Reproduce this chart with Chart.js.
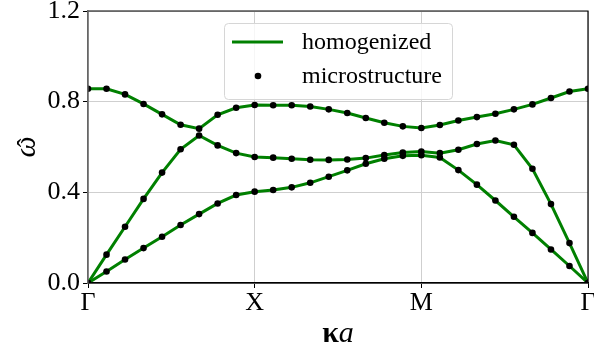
<!DOCTYPE html>
<html>
<head>
<meta charset="utf-8">
<script src="https://cdn.jsdelivr.net/npm/chart.js@4.4.1/dist/chart.umd.min.js"></script>
<style>
  html, body { margin: 0; padding: 0; background: #fff; }
  #wrap { width: 594px; height: 352px; position: relative; }
</style>
</head>
<body>
<div id="wrap"><canvas id="c" width="594" height="352"></canvas></div>
<script>
// High-symmetry path: Γ → X → M → Γ, 9 steps per segment
const pathLabels = ['Γ', 'X', 'M', 'Γ'];
const pathTicks = [0, 9, 18, 27];
const yTicks = [0, 0.4, 0.8, 1.2];

// Normalised frequency of the three lowest bands along the path
const band1 = [0.000, 0.051, 0.104, 0.154, 0.204, 0.256, 0.304, 0.351, 0.388, 0.403,
               0.410, 0.422, 0.442, 0.469, 0.497, 0.526, 0.548, 0.561, 0.564,
               0.554, 0.498, 0.434, 0.364, 0.292, 0.221, 0.148, 0.075, 0.000];
const band2 = [0.000, 0.125, 0.248, 0.371, 0.487, 0.590, 0.651, 0.607, 0.573, 0.556,
               0.553, 0.548, 0.544, 0.543, 0.545, 0.551, 0.565, 0.576, 0.580,
               0.573, 0.588, 0.613, 0.629, 0.610, 0.504, 0.348, 0.176, 0.000];
const band3 = [0.857, 0.857, 0.832, 0.790, 0.744, 0.698, 0.681, 0.742, 0.773, 0.785,
               0.784, 0.784, 0.779, 0.766, 0.750, 0.728, 0.707, 0.691, 0.684,
               0.697, 0.717, 0.732, 0.747, 0.766, 0.788, 0.816, 0.845, 0.857];

const seriesNames = ['homogenized', 'microstructure'];
const bands = [band1, band2, band3];

const GREEN = '#008000';
const SERIF = '"Liberation Serif", "Times New Roman", serif';

const toXY = arr => arr.map((v, i) => ({ x: i, y: v }));

const datasets = [];
bands.forEach(b => {
  datasets.push({
    label: seriesNames[0], data: toXY(b), showLine: true,
    borderColor: GREEN, borderWidth: 3, pointRadius: 0, tension: 0, order: 2
  });
});
bands.forEach(b => {
  datasets.push({
    label: seriesNames[1], data: toXY(b), showLine: false,
    pointRadius: 3.3, pointBackgroundColor: '#000', pointBorderWidth: 0, order: 1
  });
});

// Frame: top/right black spines, left spine grey
const framePlugin = {
  id: 'frame',
  afterDatasetsDraw(chart) {
    const { ctx, chartArea: a } = chart;
    ctx.save();
    ctx.lineWidth = 1.2;
    ctx.strokeStyle = '#000';
    ctx.beginPath();
    ctx.moveTo(a.left, a.top); ctx.lineTo(a.right, a.top);
    ctx.lineTo(a.right, a.bottom); ctx.lineTo(a.left, a.bottom);
    ctx.stroke();
    ctx.strokeStyle = '#666';
    ctx.beginPath();
    ctx.moveTo(a.left, a.top); ctx.lineTo(a.left, a.bottom);
    ctx.stroke();
    ctx.restore();
  }
};

// Legend box inside the plot, upper centre
const legendPlugin = {
  id: 'innerLegend',
  afterDraw(chart) {
    const ctx = chart.ctx;
    const x0 = 224, y0 = 23, w = 228, h = 76, r = 4;
    ctx.save();
    ctx.beginPath();
    ctx.roundRect(x0 + 0.5, y0 + 0.5, w, h, r);
    ctx.fillStyle = 'rgba(255,255,255,0.8)';
    ctx.fill();
    ctx.strokeStyle = '#d6d6d6';
    ctx.lineWidth = 1;
    ctx.stroke();

    ctx.strokeStyle = GREEN;
    ctx.lineWidth = 3;
    ctx.beginPath();
    ctx.moveTo(232, 42); ctx.lineTo(283, 42);
    ctx.stroke();

    ctx.fillStyle = '#000';
    ctx.beginPath();
    ctx.arc(258, 76, 3.3, 0, Math.PI * 2);
    ctx.fill();

    ctx.font = '24px ' + SERIF;
    ctx.textBaseline = 'middle';
    ctx.textAlign = 'left';
    ctx.fillText(seriesNames[0], 302, 43);
    ctx.fillText(seriesNames[1], 302, 77);
    ctx.restore();
  }
};

// Axis titles: bold κ with italic a, and italic ω with a hat
const titlePlugin = {
  id: 'axisTitles',
  afterDraw(chart) {
    const { ctx, chartArea: a } = chart;
    ctx.save();
    ctx.fillStyle = '#000';
    ctx.textBaseline = 'alphabetic';
    ctx.textAlign = 'left';
    const fK = 'bold 30px ' + SERIF, fA = 'italic 30px ' + SERIF;
    ctx.font = fK; const wK = ctx.measureText('κ').width;
    ctx.font = fA; const wA = ctx.measureText('a').width;
    const cx = (a.left + a.right) / 2;
    const x = cx - (wK + wA) / 2;
    ctx.font = fK; ctx.fillText('κ', x, 342);
    ctx.font = fA; ctx.fillText('a', x + wK, 342);

    ctx.translate(35, (a.top + a.bottom) / 2);
    ctx.rotate(-Math.PI / 2);
    ctx.textAlign = 'center';
    ctx.font = 'italic 30px ' + SERIF;
    ctx.fillText('ω', 0, 0);
    ctx.font = '26px ' + SERIF;
    ctx.fillText('ˆ', 4, 0);
    ctx.restore();
  }
};

new Chart(document.getElementById('c'), {
  type: 'line',
  data: { datasets },
  options: {
    responsive: false,
    devicePixelRatio: 1,
    animation: false,
    layout: { padding: { top: 11, right: 6, left: 0, bottom: 0 } },
    plugins: { legend: { display: false }, tooltip: { enabled: false } },
    scales: {
      x: {
        type: 'linear', min: 0, max: 27,
        afterBuildTicks: s => { s.ticks = pathTicks.map(v => ({ value: v })); },
        afterFit: s => { s.height = 69; s.paddingLeft = 0; s.paddingRight = 0; },
        ticks: {
          callback: (v, i) => pathLabels[i],
          font: { family: SERIF, size: 26 }, color: '#000',
          padding: 0, maxRotation: 0, autoSkip: false
        },
        grid: { color: '#cfcfcf', lineWidth: 1, tickLength: 5, tickColor: '#000' },
        border: { color: '#000', width: 1.2 }
      },
      y: {
        min: 0, max: 1.2,
        afterBuildTicks: s => { s.ticks = yTicks.map(v => ({ value: v })); },
        afterFit: s => { s.width = 88; s.paddingTop = 0; s.paddingBottom = 0; },
        ticks: {
          callback: v => v.toFixed(1),
          font: { family: SERIF, size: 26 }, color: '#000', padding: 3
        },
        grid: { color: '#cfcfcf', lineWidth: 1, tickLength: 5, tickColor: '#000' },
        border: { color: '#666', width: 1.2 }
      }
    }
  },
  plugins: [framePlugin, legendPlugin, titlePlugin]
});
</script>
</body>
</html>
